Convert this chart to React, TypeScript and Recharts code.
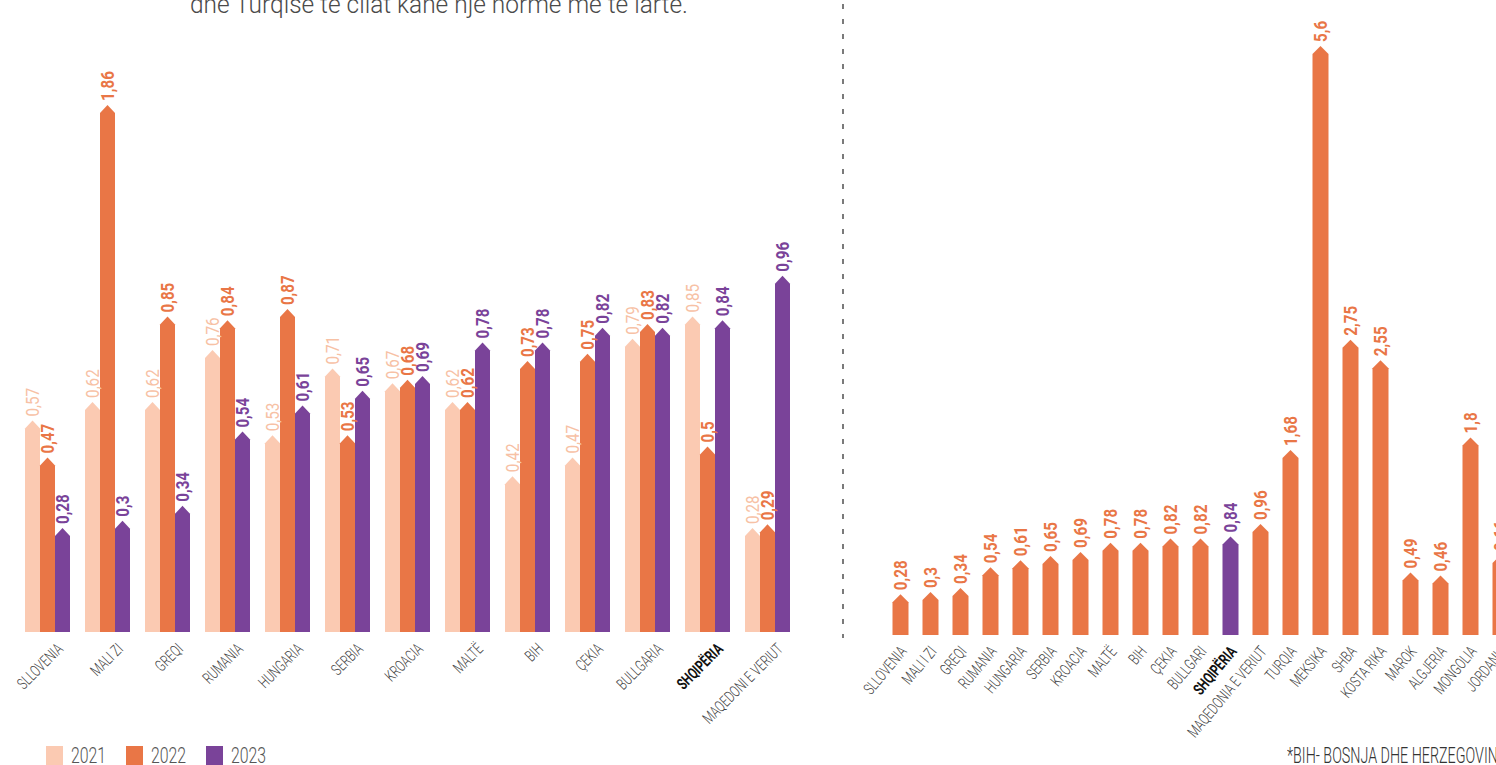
import React from 'react';
import { BarChart, Bar, XAxis, YAxis, LabelList, Cell } from 'recharts';

// ---------- data ----------
const leftCountries = [
  'SLLOVENIA', 'MALI ZI', 'GREQI', 'RUMANIA', 'HUNGARIA', 'SERBIA', 'KROACIA',
  'MALTË', 'BIH', 'ÇEKIA', 'BULLGARIA', 'SHQIPËRIA', 'MAQEDONI E VERIUT',
];
const values2021 = [0.57, 0.62, 0.62, 0.76, 0.53, 0.71, 0.67, 0.62, 0.42, 0.47, 0.79, 0.85, 0.28];
const values2022 = [0.47, 1.86, 0.85, 0.84, 0.87, 0.53, 0.68, 0.62, 0.73, 0.75, 0.83, 0.5, 0.29];
const values2023 = [0.28, 0.3, 0.34, 0.54, 0.61, 0.65, 0.69, 0.78, 0.78, 0.82, 0.82, 0.84, 0.96];

const rightCountries = [
  'SLLOVENIA', 'MALI I ZI', 'GREQI', 'RUMANIA', 'HUNGARIA', 'SERBIA', 'KROACIA',
  'MALTË', 'BIH', 'ÇEKIA', 'BULLGARI', 'SHQIPËRIA', 'MAQEDONIA E VERIUT', 'TURQIA',
  'MEKSIKA', 'SHBA', 'KOSTA RIKA', 'MAROK', 'ALGJERIA', 'MONGOLIA', 'JORDANIA',
];
const rightValues = [
  0.28, 0.3, 0.34, 0.54, 0.61, 0.65, 0.69, 0.78, 0.78, 0.82, 0.82, 0.84, 0.96, 1.68,
  5.6, 2.75, 2.55, 0.49, 0.46, 1.8, 0.66,
];

const years = ['2021', '2022', '2023'];
const highlightCountry = 'SHQIPËRIA';
const introText = 'dhe Turqisë të cilat kanë një normë më të lartë.';
const footnote = '*BIH- BOSNJA DHE HERZEGOVINA';

// ---------- styles ----------
const C2021 = '#FBCAB2';
const C2022 = '#E97646';
const C2023 = '#7A4399';
const L2021 = '#F7C1A5';
const FONT = 'Roboto, "Noto Sans", sans-serif';
const ARROW = 8;

const leftData = leftCountries.map((c, i) => ({
  country: c,
  v2021: values2021[i],
  v2022: values2022[i],
  v2023: values2023[i],
}));
const rightData = rightCountries.map((c, i) => ({ country: c, value: rightValues[i] }));

const fmt = (v: number) => String(v).replace('.', ',');

function arrowShape(clampTop: number | null, pad: number) {
  return (props: any) => {
    const { x, width, fill } = props;
    let y = props.y;
    const height = props.height;
    if (x == null || y == null || width == null || height == null) return null;
    const bottom = y + height + pad;
    if (clampTop != null && y < clampTop) y = clampTop;
    const h = Math.min(ARROW, bottom - y);
    const pts = [
      [x, y + h],
      [x + width / 2, y],
      [x + width, y + h],
      [x + width, bottom],
      [x, bottom],
    ];
    return <polygon points={pts.map((p) => p.join(',')).join(' ')} fill={fill} />;
  };
}

function valueLabel(
  colorFor: (i: number) => string,
  weight: number,
  clampTop: number | null,
) {
  return (props: any) => {
    const vb = props.viewBox || {};
    const x = props.x ?? vb.x;
    let y = props.y ?? vb.y;
    const width = props.width ?? vb.width;
    const value = props.value;
    if (x == null || y == null || value == null) return null;
    if (clampTop != null && y < clampTop) y = clampTop;
    const cx = x + width / 2;
    const ly = y - 4;
    return (
      <text
        transform={`translate(${cx},${ly}) rotate(-90) scale(0.8,1)`}
        textAnchor="start"
        dominantBaseline="central"
        fontFamily={FONT}
        fontSize={19}
        fontWeight={weight}
        fill={colorFor(props.index ?? 0)}
      >
        {fmt(Number(value))}
      </text>
    );
  };
}

function makeTick(dx: number, dy: number, angle: number) {
  return (props: any) => {
    const { x, y, payload } = props;
    const hi = payload.value === highlightCountry;
    return (
      <text
        transform={`translate(${x + dx},${y + dy}) rotate(${angle}) scale(0.7,1)`}
        textAnchor="end"
        fontFamily={FONT}
        fontSize={16}
        fontWeight={hi ? 700 : 300}
        fill={hi ? '#111' : '#444'}
      >
        {payload.value}
      </text>
    );
  };
}

const LEFT_TOP = 105;

export default function App() {
  return (
    <div
      style={{
        position: 'fixed',
        left: 0,
        top: 0,
        width: 1496,
        height: 765,
        overflow: 'hidden',
        background: '#fff',
        fontFamily: FONT,
      }}
    >
      {/* intro text (cut at top) */}
      <div
        style={{
          position: 'absolute',
          left: 190,
          top: -6,
          fontSize: 26,
          lineHeight: '20px',
          fontWeight: 300,
          color: '#4a4a4a',
          whiteSpace: 'nowrap',
          transform: 'scaleX(0.94)',
          transformOrigin: 'left top',
        }}
      >
        {introText}
      </div>

      {/* left chart */}
      <div style={{ position: 'absolute', left: 0, top: 0 }}>
        <BarChart
          width={830}
          height={740}
          data={leftData}
          margin={{ top: LEFT_TOP, right: 33, bottom: 78, left: 17 }}
          barGap={0}
        >
          <XAxis
            dataKey="country"
            axisLine={false}
            tickLine={false}
            interval={0}
            height={30}
            tick={makeTick(17, 10, -45)}
          />
          <YAxis hide type="number" domain={[0, 1.42]} allowDataOverflow />
          <Bar dataKey="v2021" fill={C2021} barSize={15} isAnimationActive={false} shape={arrowShape(LEFT_TOP, 0)}>
            <LabelList dataKey="v2021" content={valueLabel(() => L2021, 400, LEFT_TOP)} />
          </Bar>
          <Bar dataKey="v2022" fill={C2022} barSize={15} isAnimationActive={false} shape={arrowShape(LEFT_TOP, 0)}>
            <LabelList dataKey="v2022" content={valueLabel(() => C2022, 700, LEFT_TOP)} />
          </Bar>
          <Bar dataKey="v2023" fill={C2023} barSize={15} isAnimationActive={false} shape={arrowShape(LEFT_TOP, 0)}>
            <LabelList dataKey="v2023" content={valueLabel(() => C2023, 700, LEFT_TOP)} />
          </Bar>
        </BarChart>
      </div>

      {/* dashed separator */}
      <svg style={{ position: 'absolute', left: 838, top: 0 }} width={10} height={640}>
        <line x1={5} y1={4} x2={5} y2={638} stroke="#7a7a7a" strokeWidth={2} strokeDasharray="5 10" />
      </svg>

      {/* right chart */}
      <div style={{ position: 'absolute', left: 860, top: 0 }}>
        <BarChart
          width={700}
          height={740}
          data={rightData}
          margin={{ top: 46, right: 44.5, bottom: 87, left: 25.5 }}
        >
          <XAxis
            dataKey="country"
            axisLine={false}
            tickLine={false}
            interval={0}
            height={30}
            tick={makeTick(7, 21, -50)}
          />
          <YAxis hide type="number" domain={[0, 5.6]} />
          <Bar dataKey="value" fill={C2022} barSize={16} isAnimationActive={false} shape={arrowShape(null, 12)}>
            {rightData.map((d) => (
              <Cell key={d.country} fill={d.country === highlightCountry ? C2023 : C2022} />
            ))}
            <LabelList
              dataKey="value"
              content={valueLabel(
                (i) => (rightCountries[i] === highlightCountry ? C2023 : C2022),
                700,
                null,
              )}
            />
          </Bar>
        </BarChart>
      </div>

      {/* legend */}
      {years.map((yr, i) => (
        <div
          key={yr}
          style={{
            position: 'absolute',
            left: 46 + i * 80,
            top: 746,
            display: 'flex',
            alignItems: 'flex-start',
            whiteSpace: 'nowrap',
          }}
        >
          <div
            style={{
              width: 17,
              height: 19,
              background: [C2021, C2022, C2023][i],
              marginRight: 8,
            }}
          />
          <div
            style={{
              fontSize: 22,
              lineHeight: '20px',
              fontWeight: 300,
              color: '#555',
              transform: 'scaleX(0.72)',
              transformOrigin: 'left top',
            }}
          >
            {yr}
          </div>
        </div>
      ))}

      {/* footnote */}
      <div
        style={{
          position: 'absolute',
          left: 1287,
          top: 746,
          fontSize: 22,
          lineHeight: '20px',
          fontWeight: 300,
          color: '#333',
          whiteSpace: 'nowrap',
          transform: 'scaleX(0.65)',
          transformOrigin: 'left top',
        }}
      >
        {footnote}
      </div>
    </div>
  );
}
